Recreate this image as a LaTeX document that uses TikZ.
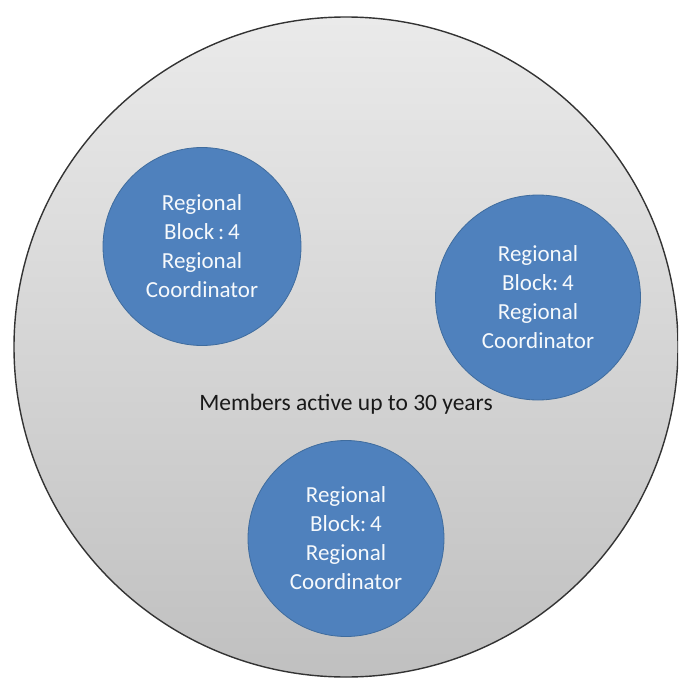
\documentclass[tikz,border=0pt]{standalone}
\usepackage{fontspec}
\setmainfont{Carlito}
\usetikzlibrary{shapes.geometric}
\definecolor{blockblue}{HTML}{4F81BD}
\definecolor{blockedge}{HTML}{3F6C9E}
\definecolor{grouptop}{HTML}{EAEAEA}
\definecolor{groupbottom}{HTML}{C0C0C0}
\definecolor{groupedge}{HTML}{333333}
\tikzset{
  block/.style={circle, fill=blockblue, draw=blockedge, line width=0.8pt,
    minimum size=#1, inner sep=0pt, text=white!95!blockblue, align=center,
    font=\fontsize{23}{29}\selectfont},
  caption/.style={text=black!90, font=\fontsize{23.5}{26}\selectfont}
}

\begin{document}
\begin{tikzpicture}[x=1pt, y=-1pt]
        \useasboundingbox (0,0) rectangle (678,679);
        \clip (0,0) rectangle (678,679);
        % outer group
        \draw[draw=groupedge, line width=1.4pt, top color=grouptop, bottom color=groupbottom]
            (346,347) ellipse [x radius=332, y radius=330];
        \node[caption] (members) at (346,404) {Members active up to 30 years};
        % regional blocks
        \node[block=198pt] (blockwest) at (202,246.5) {Regional\\Block\,:\,4\\Regional\\Coordinator};
        \node[block=205pt] (blockeast) at (538,297.5) {Regional\\Block:\,4\\Regional\\Coordinator};
        \node[block=196pt] (blocksouth) at (346,538.5) {Regional\\Block:\,4\\Regional\\Coordinator};
\end{tikzpicture}
\end{document}
